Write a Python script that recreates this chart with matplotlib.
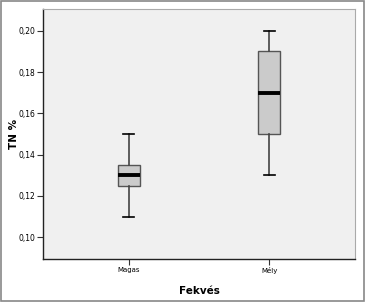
import matplotlib
matplotlib.use('Agg')
import matplotlib.pyplot as plt
from matplotlib.patches import Rectangle

categories = ['Magas', 'Mély']
whisker_low = [0.11, 0.13]
q1 = [0.125, 0.15]
median = [0.13, 0.17]
q3 = [0.135, 0.19]
whisker_high = [0.15, 0.20]
yticks = [0.10, 0.12, 0.14, 0.16, 0.18, 0.20]

stats = []
for i, name in enumerate(categories):
    stats.append({'label': name, 'whislo': whisker_low[i], 'q1': q1[i], 'med': median[i],
                  'q3': q3[i], 'whishi': whisker_high[i], 'fliers': []})

fig = plt.figure(figsize=(3.66, 3.02), dpi=100)
ax = fig.add_axes([43 / 366, 43 / 302, 312 / 366, 250 / 302])
ax.set_facecolor('#f0f0f0')

ax.bxp(stats, positions=[1, 2], widths=0.156, patch_artist=True,
       boxprops=dict(facecolor='#cbcbcb', edgecolor='#555555', linewidth=1.0),
       medianprops=dict(color='black', linewidth=2.8),
       whiskerprops=dict(color='#444444', linewidth=1.2),
       capprops=dict(color='black', linewidth=1.2),
       capwidths=0.078)

ax.set_xlim(0.39, 2.61)
ax.set_ylim(0.0894, 0.2106)
ax.set_yticks(yticks)
ax.set_yticklabels([f'{v:.2f}'.replace('.', ',') for v in yticks], fontsize=5.5)
ax.set_xticks([1, 2])
ax.set_xticklabels(categories, fontsize=5)
ax.tick_params(axis='both', length=4, width=0.8, color='#333333', pad=1.5)
ax.set_ylabel('TN %', fontsize=7.5, fontweight='bold')
ax.yaxis.set_label_coords(-0.077, 0.5)
ax.set_xlabel('Fekvés', fontsize=7.5, fontweight='bold', labelpad=9)

for side in ['left', 'bottom']:
    ax.spines[side].set_color('#222222')
    ax.spines[side].set_linewidth(1.0)
for side in ['top', 'right']:
    ax.spines[side].set_color('#aaaaaa')
    ax.spines[side].set_linewidth(0.8)

fig.patches.append(Rectangle((0.003, 0.003), 0.992, 0.994, transform=fig.transFigure,
                             fill=False, edgecolor='#888888', linewidth=1.2))

fig.savefig('out.png', dpi=100)
